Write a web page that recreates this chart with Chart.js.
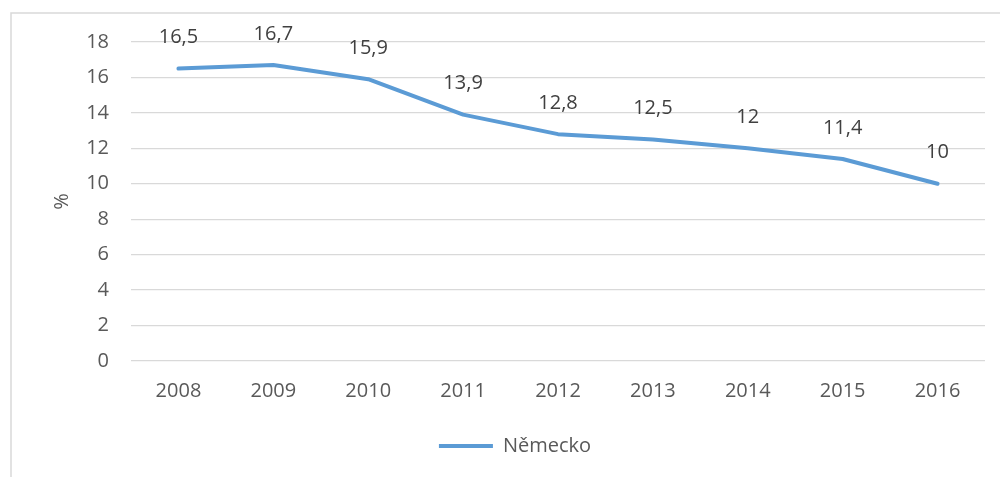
<!DOCTYPE html>
<html>
<head>
<meta charset="utf-8">
<script src="https://cdn.jsdelivr.net/npm/chart.js@4.4.1/dist/chart.umd.min.js"></script>
<style>
html,body{margin:0;padding:0;background:#fff;}
#wrap{position:relative;width:1000px;height:477px;}
</style>
</head>
<body>
<div id="wrap"><canvas id="c" width="1000" height="477"></canvas></div>
<script>
const categories = ['2008','2009','2010','2011','2012','2013','2014','2015','2016'];
const values = [16.5, 16.7, 15.9, 13.9, 12.8, 12.5, 12, 11.4, 10];
const valueLabels = ['16,5','16,7','15,9','13,9','12,8','12,5','12','11,4','10'];
const seriesName = 'Německo';
const yTitle = '%';

const FONT = '"Open Sans", "Liberation Sans", sans-serif';

const framePlugin = {
  id: 'frame',
  beforeDraw(chart) {
    const ctx = chart.ctx;
    ctx.save();
    ctx.strokeStyle = '#d9d9d9';
    ctx.lineWidth = 1.5;
    ctx.beginPath();
    ctx.moveTo(11, 477);
    ctx.lineTo(11, 13);
    ctx.lineTo(1000, 13);
    ctx.stroke();
    ctx.restore();
  }
};

const labelPlugin = {
  id: 'valueLabels',
  afterDatasetsDraw(chart) {
    const ctx = chart.ctx;
    const meta = chart.getDatasetMeta(0);
    ctx.save();
    ctx.font = '20px ' + FONT;
    ctx.fillStyle = '#404040';
    ctx.textAlign = 'center';
    ctx.textBaseline = 'middle';
    meta.data.forEach((pt, i) => {
      ctx.fillText(valueLabels[i], pt.x, pt.y - 31);
    });
    ctx.restore();
  }
};

new Chart(document.getElementById('c'), {
  type: 'line',
  data: {
    labels: categories,
    datasets: [{
      label: seriesName,
      data: values,
      borderColor: '#5b9bd5',
      backgroundColor: '#5b9bd5',
      borderWidth: 4,
      borderCapStyle: 'round',
      borderJoinStyle: 'round',
      pointRadius: 0,
      pointHoverRadius: 0,
      tension: 0,
      fill: false
    }]
  },
  options: {
    responsive: false,
    animation: false,
    events: [],
    layout: { padding: { left: 45, right: 15, top: 42, bottom: 11 } },
    plugins: {
      legend: {
        position: 'bottom',
        labels: {
          usePointStyle: true,
          pointStyle: 'line',
          pointStyleWidth: 54,
          boxHeight: 4,
          padding: 10,
          color: '#595959',
          font: { family: FONT, size: 20 }
        }
      },
      tooltip: { enabled: false }
    },
    scales: {
      x: {
        offset: true,
        grid: { display: false, drawTicks: false },
        border: { display: false },
        ticks: { color: '#595959', padding: 18, font: { family: FONT, size: 20 }, maxRotation: 0 },
        afterFit(s) { s.height = 65; }
      },
      y: {
        min: 0, max: 18,
        ticks: { stepSize: 2, color: '#595959', padding: 22, font: { family: FONT, size: 20 } },
        grid: { color: '#d9d9d9', lineWidth: 1.3, drawTicks: false },
        border: { display: false },
        title: { display: true, text: yTitle, color: '#595959', font: { family: FONT, size: 20 }, padding: { top: 5, bottom: 0 } },
        afterFit(s) { s.width = 86; }
      }
    }
  },
  plugins: [framePlugin, labelPlugin]
});
</script>
</body>
</html>
